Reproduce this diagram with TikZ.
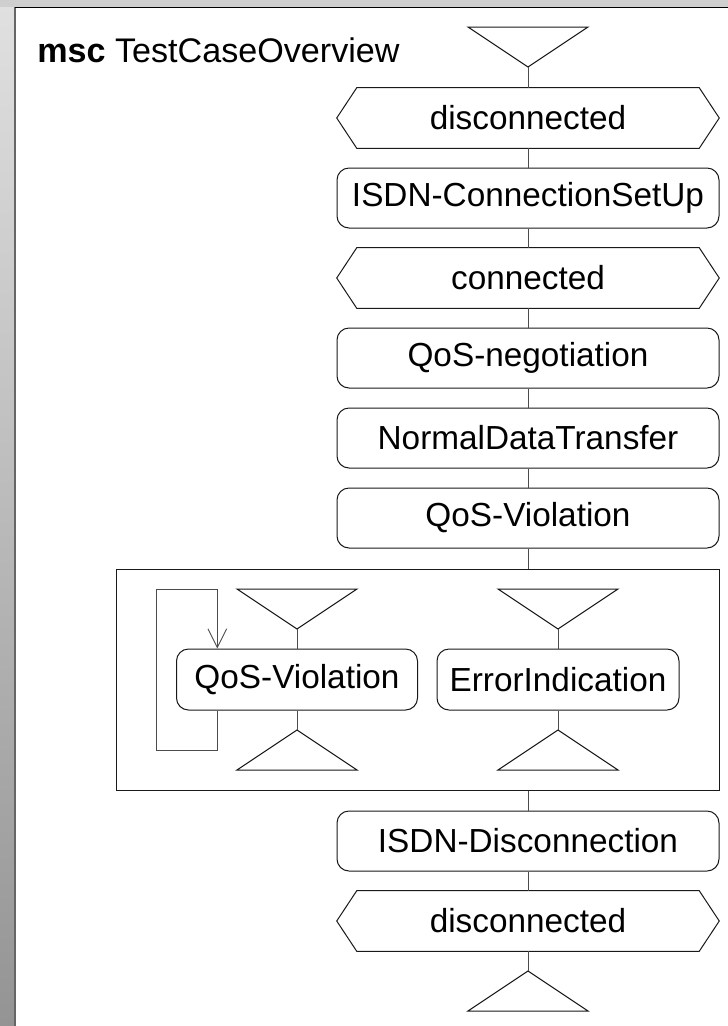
\documentclass[tikz,border=0pt]{standalone}
\usepackage{fontspec}
\setmainfont{Liberation Sans}
\usetikzlibrary{arrows.meta}
\begin{document}
\begin{tikzpicture}[x=0.75pt,y=-0.75pt,
  every node/.style={font=\fontsize{25}{30}\selectfont},
  line/.style={line width=0.75pt, draw=black!90},
  conn/.style={line width=0.7pt, draw=black!70},
  proc/.style={line, rectangle, rounded corners=9pt, minimum width=286.5pt, minimum height=45pt, inner sep=0pt},
  cond/.style={rectangle, minimum width=286.5pt, minimum height=45pt, inner sep=0pt},
  tristart/.pic={\draw[line] (-60,-40) -- (60,-40) -- (0,0) -- cycle; \coordinate (-tip) at (0,0);},
  triend/.pic={\draw[line] (-60,40) -- (60,40) -- (0,0) -- cycle; \coordinate (-tip) at (0,0);},
]
\useasboundingbox (0,0) rectangle (728,1026);
% background frame
\shade[top color=black!12, bottom color=black!42] (0,0) rectangle (16,1026);
\fill[black!19] (0,0) rectangle (728,7);
\fill[white] (16,7) rectangle (728,1026);
\draw[black!60, line width=1.5pt] (15,7) -- (15,1026);
\draw[black, line width=0.8pt] (15,7.5) -- (728,7.5);

\node[anchor=base west, inner sep=0pt, font=\fontsize{25.6}{30}\selectfont] (title) at (37,62) {\textbf{msc} TestCaseOverview};

% main column
\pic (ts) at (528,67) {tristart};
\node[cond] (c1) at (528,118) {disconnected};
\node[proc] (p1) at (528,198) {ISDN-ConnectionSetUp};
\node[cond] (c2) at (528,278) {connected};
\node[proc] (p2) at (528,358) {QoS-negotiation};
\node[proc] (p3) at (528,438) {NormalDataTransfer};
\node[proc] (p4) at (528,518) {QoS-Violation};
\node[line, rectangle, minimum width=452.25pt, minimum height=165.75pt, inner sep=0pt] (frame) at (417.5,679.5) {};
\node[proc] (p5) at (528,841) {ISDN-Disconnection};
\node[cond] (c3) at (528,921) {disconnected};
\pic (te) at (528,971) {triend};

\foreach \n in {c1,c2,c3}
  \draw[line] ([xshift=15pt]\n.north west) -- ([xshift=-15pt]\n.north east) -- (\n.east)
    -- ([xshift=-15pt]\n.south east) -- ([xshift=15pt]\n.south west) -- (\n.west) -- cycle;

\draw[conn] (ts-tip) -- (c1.north);
\draw[conn] (c1.south) -- (p1.north);
\draw[conn] (p1.south) -- (c2.north);
\draw[conn] (c2.south) -- (p2.north);
\draw[conn] (p2.south) -- (p3.north);
\draw[conn] (p3.south) -- (p4.north);
\draw[conn] (p4.south) -- (p4.south |- frame.north);
\draw[conn] (p5.north |- frame.south) -- (p5.north);
\draw[conn] (p5.south) -- (c3.north);
\draw[conn] (c3.south) -- (te-tip);

% inline part
\pic (its) at (297,629) {tristart};
\node[proc, minimum width=180.75pt, minimum height=45.75pt] (iq) at (297,679.5) {QoS-Violation};
\pic (ite) at (297,730) {triend};
\pic (jts) at (558,629) {tristart};
\node[proc, minimum width=181.5pt, minimum height=45.75pt] (ie) at (558,679.5) {ErrorIndication};
\pic (jte) at (558,730) {triend};

\draw[conn] (its-tip) -- (iq.north);
\draw[conn] (iq.south) -- (ite-tip);
\draw[conn] (jts-tip) -- (ie.north);
\draw[conn] (ie.south) -- (jte-tip);

\coordinate (lp) at ([xshift=31pt]iq.south west);
\draw[conn, -{Straight Barb[length=14pt,width=14pt]}] (lp) -- ++(0,40) -- ++(-61,0) -- ++(0,-161) -- ++(61,0) -- ([xshift=31pt]iq.north west);
\end{tikzpicture}
\end{document}
